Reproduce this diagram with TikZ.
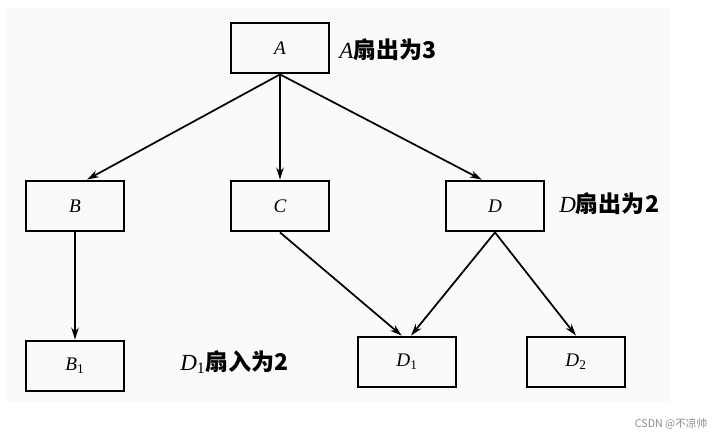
\documentclass[tikz,border=0pt]{standalone}
\usepackage{fontspec}
\setmainfont{Liberation Serif}
\newfontfamily\cjk{Noto Sans CJK SC}
\usetikzlibrary{arrows.meta}

\newcommand{\modname}[2]{\textit{#1}\textsubscript{#2}}

\tikzset{
	modbox/.style={draw, line width=1.6pt, minimum width=73pt, minimum height=38pt, inner sep=0pt, font=\Large},
	fanarrow/.style={line width=1.3pt, -{Stealth[length=9pt,width=5.5pt]}},
	fannote/.style={anchor=west, inner sep=0pt, font=\LARGE}
}

\begin{document}
\begin{tikzpicture}[x=0.75pt, y=-0.75pt]
				\useasboundingbox (0,0) rectangle (723,437);
				\fill[black!2] (6,8) rectangle (670,402);
				
				\node[modbox] (A) at (280,48) {\textit{A}};
				\node[modbox] (B) at (75,206) {\textit{B}};
				\node[modbox] (C) at (280,206) {\textit{C}};
				\node[modbox] (D) at (495,206) {\textit{D}};
				\node[modbox] (B1) at (75,366) {\modname{B}{1}};
				\node[modbox] (D1) at (407,362) {\modname{D}{1}};
				\node[modbox] (D2) at (576,362) {\modname{D}{2}};
				
				\node[fannote] (noteA) at (339,50) {\textit{A}{\cjk\bfseries 扇出为3}};
				\node[fannote] (noteD) at (559,204) {\textit{D}{\cjk\bfseries 扇出为2}};
				\node[fannote] (noteD1) at (180,362) {\modname{D}{1}{\cjk\bfseries 扇入为2}};
				
				\draw[fanarrow] (A.south) -- ([xshift=9pt]B.north);
				\draw[fanarrow] (A.south) -- (C.north);
				\draw[fanarrow] (A.south) -- ([xshift=-10pt]D.north);
				\draw[fanarrow] (B.south) -- (B1.north);
				\draw[fanarrow] (C.south) -- ([xshift=-4pt]D1.north);
				\draw[fanarrow] (D.south) -- ([xshift=3pt]D1.north);
				\draw[fanarrow] (D.south) -- (D2.north);
				
				\node[anchor=east, text=black!45, font=\cjk\footnotesize] (mark) at (712,424) {CSDN @不凉帅};
			\end{tikzpicture}
\end{document}
